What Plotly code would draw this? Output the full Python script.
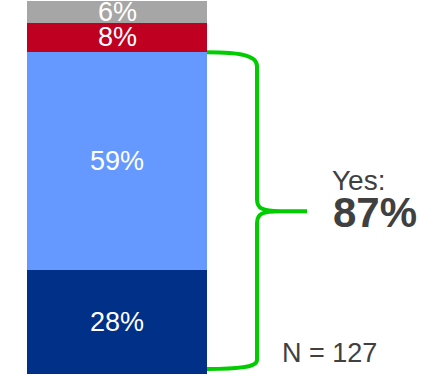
import plotly.graph_objects as go

# Share of responses, stacked bottom to top
categories = ["Strongly yes", "Rather yes", "No", "Don't know"]
values = [28, 59, 8, 6]
colors = ["#003087", "#6699FF", "#BF0020", "#A6A6A6"]
sample_label = "N = 127"
yes_label = "Yes:"

W, H = 446, 377
BAR_CENTER, BAR_WIDTH = 117, 180
total = sum(values)

# vertical scale: bar fills the canvas from px 0.5 (top) to px 374 (bottom)
top_px, base_px = 0.5, 374.0
k = (base_px - top_px) / total
y_hi = total + top_px / k
y_lo = -(H - base_px) / k


def yd(px):
    """pixel row -> data value on the y axis"""
    return (base_px - px) / k


def ypx(v):
    return base_px - v * k


fig = go.Figure()
for cat, v, c in zip(categories, values, colors):
    fig.add_trace(go.Bar(
        x=[BAR_CENTER], y=[v], width=BAR_WIDTH, name=cat,
        marker=dict(color=c, line=dict(width=0)),
        hoverinfo="skip",
    ))

# value labels centred in each segment
cum = 0
for v in values:
    fig.add_annotation(
        x=BAR_CENTER, y=cum + v / 2, text=f"{v}%", showarrow=False,
        font=dict(family="Liberation Sans, Arial", size=27, color="white"),
        xanchor="center", yanchor="middle",
    )
    cum += v

# bracket spanning the two "yes" segments
yes_total = values[0] + values[1]
t = ypx(yes_total)
m = ypx(yes_total / 2) - 2
b = base_px - 5
x0, xv, xt = 207, 257, 307
pts = [
    f"M {x0},{yd(t)}",
    f"C {240},{yd(t)} {xv},{yd(t + 3)} {xv},{yd(t + 14)}",
    f"L {xv},{yd(m - 12)}",
    f"C {xv},{yd(m - 3)} {262},{yd(m)} {280},{yd(m)}",
    f"L {xt},{yd(m)}",
    f"L {280},{yd(m)}",
    f"C {262},{yd(m)} {xv},{yd(m + 3)} {xv},{yd(m + 12)}",
    f"L {xv},{yd(b - 9)}",
    f"C {xv},{yd(b - 2)} {240},{yd(b)} {x0},{yd(b)}",
]
fig.add_shape(
    type="path", path=" ".join(pts), xref="x", yref="y",
    line=dict(color="#00CC00", width=4),
)

text_color = "#404040"
fig.add_annotation(
    x=330, y=yd(180), text=yes_label, showarrow=False,
    xanchor="left", yanchor="middle",
    font=dict(family="Liberation Sans, Arial", size=28, color=text_color),
)
fig.add_annotation(
    x=331, y=yd(212), text=f"<b>{yes_total}%</b>", showarrow=False,
    xanchor="left", yanchor="middle",
    font=dict(family="Liberation Sans, Arial", size=42, color=text_color),
)
fig.add_annotation(
    x=280, y=yd(353), text=sample_label, showarrow=False,
    xanchor="left", yanchor="middle",
    font=dict(family="Liberation Sans, Arial", size=27, color=text_color),
)

fig.update_layout(
    width=W, height=H, margin=dict(l=0, r=0, t=0, b=0),
    barmode="stack", showlegend=False, bargap=0,
    paper_bgcolor="white", plot_bgcolor="white",
    xaxis=dict(range=[0, W], visible=False, fixedrange=True),
    yaxis=dict(range=[y_lo, y_hi], visible=False, fixedrange=True),
)

fig.write_html("out.html", config={"displayModeBar": False})
